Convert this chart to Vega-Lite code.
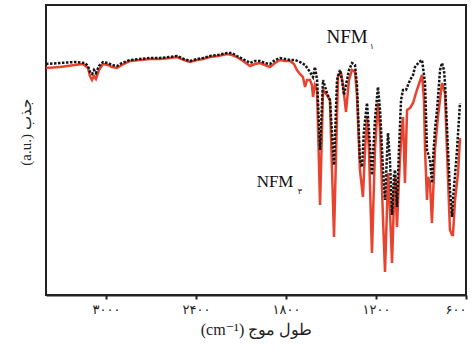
{
  "$schema": "https://vega.github.io/schema/vega-lite/v6.json",
  "width": 420,
  "height": 290,
  "autosize": {"type": "none"},
  "padding": {"left": 46, "top": 5, "right": 7, "bottom": 69},
  "background": "white",
  "config": {
    "view": {"stroke": "#222", "strokeWidth": 2},
    "font": "Liberation Serif, DejaVu Sans"
  },
  "datasets": {
    "red": [
      {"wn": 3400, "a": 227}, {"wn": 3307, "a": 228}, {"wn": 3207, "a": 230}, {"wn": 3153, "a": 231},
      {"wn": 3120, "a": 227}, {"wn": 3107, "a": 219}, {"wn": 3093, "a": 215}, {"wn": 3080, "a": 219},
      {"wn": 3067, "a": 216}, {"wn": 3047, "a": 225}, {"wn": 3020, "a": 231}, {"wn": 2987, "a": 230},
      {"wn": 2960, "a": 228}, {"wn": 2927, "a": 227}, {"wn": 2893, "a": 230}, {"wn": 2840, "a": 234},
      {"wn": 2773, "a": 235}, {"wn": 2707, "a": 236}, {"wn": 2640, "a": 236}, {"wn": 2573, "a": 237},
      {"wn": 2527, "a": 238}, {"wn": 2480, "a": 235}, {"wn": 2440, "a": 233}, {"wn": 2393, "a": 235},
      {"wn": 2353, "a": 236}, {"wn": 2307, "a": 238}, {"wn": 2253, "a": 239}, {"wn": 2193, "a": 241},
      {"wn": 2160, "a": 240}, {"wn": 2127, "a": 238}, {"wn": 2087, "a": 234}, {"wn": 2040, "a": 229},
      {"wn": 2007, "a": 231}, {"wn": 1973, "a": 232}, {"wn": 1940, "a": 230}, {"wn": 1907, "a": 228},
      {"wn": 1873, "a": 232}, {"wn": 1840, "a": 235}, {"wn": 1807, "a": 234}, {"wn": 1773, "a": 234},
      {"wn": 1747, "a": 231}, {"wn": 1727, "a": 225}, {"wn": 1707, "a": 221}, {"wn": 1687, "a": 218},
      {"wn": 1673, "a": 208}, {"wn": 1660, "a": 215}, {"wn": 1640, "a": 215}, {"wn": 1627, "a": 210},
      {"wn": 1620, "a": 198}, {"wn": 1607, "a": 210}, {"wn": 1593, "a": 205}, {"wn": 1573, "a": 90},
      {"wn": 1553, "a": 205}, {"wn": 1527, "a": 200}, {"wn": 1507, "a": 195}, {"wn": 1480, "a": 58},
      {"wn": 1453, "a": 220}, {"wn": 1433, "a": 222}, {"wn": 1420, "a": 210}, {"wn": 1400, "a": 183},
      {"wn": 1380, "a": 215}, {"wn": 1360, "a": 225}, {"wn": 1340, "a": 223}, {"wn": 1327, "a": 200},
      {"wn": 1307, "a": 125}, {"wn": 1287, "a": 98}, {"wn": 1273, "a": 145}, {"wn": 1260, "a": 178},
      {"wn": 1247, "a": 145}, {"wn": 1227, "a": 42}, {"wn": 1207, "a": 145}, {"wn": 1187, "a": 192},
      {"wn": 1173, "a": 165}, {"wn": 1153, "a": 75}, {"wn": 1140, "a": 23}, {"wn": 1127, "a": 85},
      {"wn": 1120, "a": 122}, {"wn": 1107, "a": 85}, {"wn": 1093, "a": 32}, {"wn": 1080, "a": 95},
      {"wn": 1073, "a": 118}, {"wn": 1060, "a": 68}, {"wn": 1047, "a": 115}, {"wn": 1033, "a": 155},
      {"wn": 1020, "a": 178}, {"wn": 1007, "a": 112}, {"wn": 993, "a": 185}, {"wn": 973, "a": 187},
      {"wn": 953, "a": 192}, {"wn": 927, "a": 205}, {"wn": 893, "a": 220}, {"wn": 880, "a": 195},
      {"wn": 873, "a": 145}, {"wn": 860, "a": 95}, {"wn": 853, "a": 118}, {"wn": 840, "a": 112},
      {"wn": 827, "a": 72}, {"wn": 820, "a": 98}, {"wn": 807, "a": 145}, {"wn": 787, "a": 178},
      {"wn": 760, "a": 212}, {"wn": 740, "a": 202}, {"wn": 727, "a": 145}, {"wn": 707, "a": 65},
      {"wn": 693, "a": 60}, {"wn": 687, "a": 60}, {"wn": 673, "a": 95}, {"wn": 653, "a": 122},
      {"wn": 640, "a": 157}
    ],
    "black": [
      {"wn": 3400, "a": 231}, {"wn": 3307, "a": 232}, {"wn": 3207, "a": 233}, {"wn": 3140, "a": 232},
      {"wn": 3120, "a": 229}, {"wn": 3107, "a": 223}, {"wn": 3093, "a": 221}, {"wn": 3080, "a": 225},
      {"wn": 3067, "a": 222}, {"wn": 3047, "a": 229}, {"wn": 3020, "a": 233}, {"wn": 2987, "a": 232},
      {"wn": 2960, "a": 230}, {"wn": 2927, "a": 229}, {"wn": 2893, "a": 232}, {"wn": 2840, "a": 235},
      {"wn": 2773, "a": 236}, {"wn": 2707, "a": 237}, {"wn": 2640, "a": 237}, {"wn": 2573, "a": 238},
      {"wn": 2527, "a": 239}, {"wn": 2480, "a": 236}, {"wn": 2440, "a": 234}, {"wn": 2393, "a": 236},
      {"wn": 2353, "a": 237}, {"wn": 2307, "a": 239}, {"wn": 2253, "a": 240}, {"wn": 2193, "a": 242},
      {"wn": 2160, "a": 242}, {"wn": 2127, "a": 239}, {"wn": 2087, "a": 236}, {"wn": 2040, "a": 232},
      {"wn": 2007, "a": 234}, {"wn": 1973, "a": 234}, {"wn": 1940, "a": 232}, {"wn": 1907, "a": 231},
      {"wn": 1873, "a": 235}, {"wn": 1840, "a": 237}, {"wn": 1807, "a": 236}, {"wn": 1773, "a": 235},
      {"wn": 1740, "a": 235}, {"wn": 1707, "a": 233}, {"wn": 1673, "a": 230}, {"wn": 1640, "a": 223},
      {"wn": 1620, "a": 218}, {"wn": 1607, "a": 228}, {"wn": 1593, "a": 215}, {"wn": 1573, "a": 145},
      {"wn": 1553, "a": 215}, {"wn": 1527, "a": 202}, {"wn": 1507, "a": 195}, {"wn": 1480, "a": 130},
      {"wn": 1460, "a": 215}, {"wn": 1440, "a": 225}, {"wn": 1427, "a": 215}, {"wn": 1413, "a": 200},
      {"wn": 1400, "a": 210}, {"wn": 1380, "a": 225}, {"wn": 1360, "a": 232}, {"wn": 1340, "a": 230},
      {"wn": 1327, "a": 210}, {"wn": 1307, "a": 135}, {"wn": 1293, "a": 128}, {"wn": 1280, "a": 165},
      {"wn": 1260, "a": 192}, {"wn": 1247, "a": 165}, {"wn": 1227, "a": 120}, {"wn": 1207, "a": 175},
      {"wn": 1187, "a": 208}, {"wn": 1173, "a": 185}, {"wn": 1153, "a": 125}, {"wn": 1140, "a": 95},
      {"wn": 1120, "a": 162}, {"wn": 1107, "a": 135}, {"wn": 1093, "a": 80}, {"wn": 1080, "a": 120},
      {"wn": 1073, "a": 125}, {"wn": 1060, "a": 88}, {"wn": 1047, "a": 145}, {"wn": 1033, "a": 195},
      {"wn": 1020, "a": 205}, {"wn": 1000, "a": 205}, {"wn": 973, "a": 215}, {"wn": 953, "a": 220},
      {"wn": 940, "a": 228}, {"wn": 913, "a": 233}, {"wn": 893, "a": 235}, {"wn": 873, "a": 212},
      {"wn": 860, "a": 145}, {"wn": 840, "a": 135}, {"wn": 827, "a": 112}, {"wn": 820, "a": 135},
      {"wn": 807, "a": 165}, {"wn": 793, "a": 185}, {"wn": 773, "a": 225}, {"wn": 760, "a": 232},
      {"wn": 747, "a": 225}, {"wn": 740, "a": 212}, {"wn": 720, "a": 145}, {"wn": 707, "a": 105},
      {"wn": 693, "a": 78}, {"wn": 687, "a": 95}, {"wn": 673, "a": 120}, {"wn": 660, "a": 145},
      {"wn": 640, "a": 192}
    ],
    "labels": [
      {"wn": 1393, "a": 258, "t": "NFM", "size": 19},
      {"wn": 1873, "a": 113, "t": "NFM", "size": 17}
    ],
    "subs": [
      {"wn": 1227, "a": 248, "t": "۱"},
      {"wn": 1707, "a": 103, "t": "۳"}
    ]
  },
  "encoding": {
    "x": {
      "field": "wn", "type": "quantitative",
      "scale": {"domain": [600, 3400], "reverse": true, "nice": false, "zero": false},
      "axis": {
        "values": [3000, 2400, 1800, 1200, 600],
        "labelExpr": "datum.value == 3000 ? '۳۰۰۰' : datum.value == 2400 ? '۲۴۰۰' : datum.value == 1800 ? '۱۸۰۰' : datum.value == 1200 ? '۱۲۰۰' : '۶۰۰'",
        "grid": false,
        "domainColor": "#222", "domainWidth": 2,
        "tickColor": "#222", "tickWidth": 2, "tickSize": 4,
        "labelFont": "DejaVu Sans", "labelFontSize": 13, "labelColor": "#222", "labelPadding": 4,
        "labelFlush": true,
        "title": "(cm⁻¹) طول موج",
        "titleFont": "Liberation Serif, DejaVu Serif", "titleFontSize": 16, "titleFontWeight": "normal", "titleColor": "#222",
        "titleY": 34, "titleBaseline": "middle"
      }
    },
    "y": {
      "field": "a", "type": "quantitative",
      "scale": {"domain": [0, 290], "nice": false, "zero": false},
      "axis": {
        "ticks": false, "labels": false, "grid": false, "domain": false,
        "title": "(a.u.) جذب",
        "titleFont": "Liberation Serif, DejaVu Serif", "titleFontSize": 15, "titleFontWeight": "normal", "titleColor": "#222",
        "titleX": -21, "titleY": 127, "titleAngle": 270, "titleAlign": "center", "titleBaseline": "middle"
      }
    }
  },
  "layer": [
    {
      "data": {"name": "red"},
      "mark": {"type": "line", "color": "#e8432e", "strokeWidth": 2.5, "interpolate": "linear"}
    },
    {
      "data": {"name": "black"},
      "mark": {"type": "line", "color": "#151515", "strokeWidth": 2.5, "strokeDash": [2.5, 1.5], "interpolate": "linear"}
    },
    {
      "data": {"name": "labels"},
      "mark": {"type": "text", "font": "Liberation Serif", "color": "#111", "align": "center", "baseline": "middle"},
      "encoding": {"text": {"field": "t"}, "size": {"field": "size", "type": "quantitative", "scale": null}}
    },
    {
      "data": {"name": "subs"},
      "mark": {"type": "text", "font": "DejaVu Sans", "fontSize": 8, "color": "#111", "align": "center", "baseline": "middle"},
      "encoding": {"text": {"field": "t"}}
    }
  ]
}
